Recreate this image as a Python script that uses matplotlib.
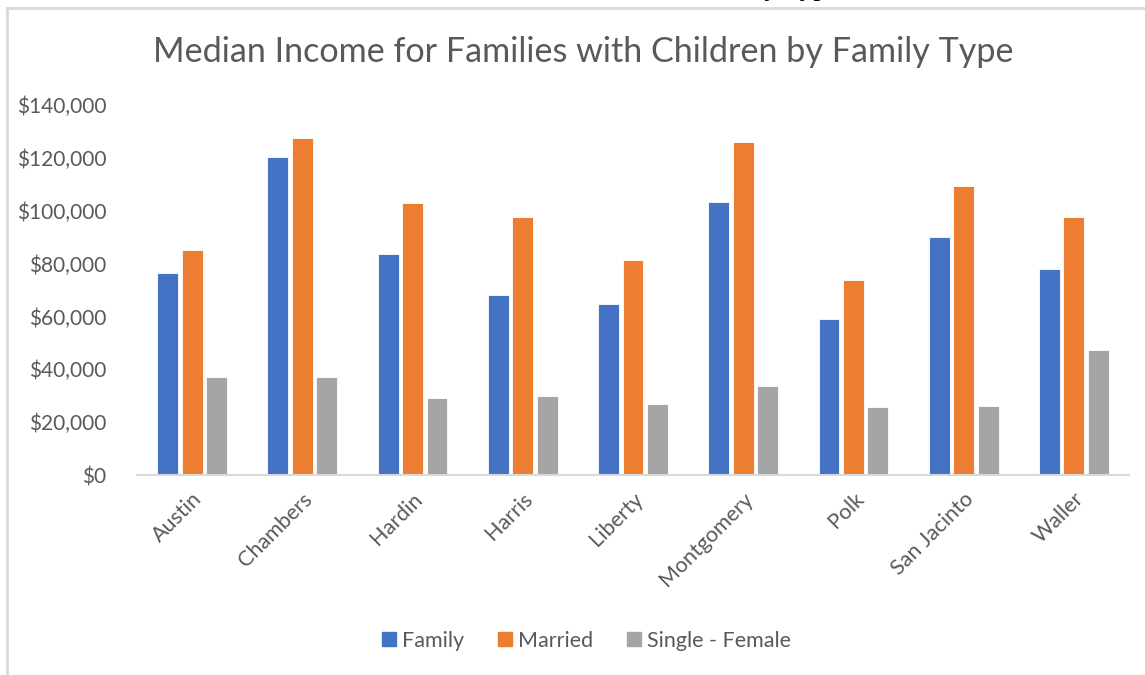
import numpy as np
import matplotlib
matplotlib.use("Agg")
import matplotlib.pyplot as plt
from matplotlib.ticker import FuncFormatter
from matplotlib.lines import Line2D

# data
counties = ["Austin", "Chambers", "Hardin", "Harris", "Liberty",
            "Montgomery", "Polk", "San Jacinto", "Waller"]
family = [76600, 120400, 83500, 68000, 64600, 103400, 58900, 89900, 77800]
married = [85100, 127600, 103000, 97700, 81500, 125900, 73900, 109300, 97700]
single_female = [37000, 37000, 29100, 29800, 26700, 33700, 25800, 26000, 47200]
series_names = ["Family", "Married", "Single - Female"]
colors = ["#4472C4", "#ED7D31", "#A5A5A5"]
y_ticks = [0, 20000, 40000, 60000, 80000, 100000, 120000, 140000]

text_color = "#595959"
plt.rcParams['font.family'] = ['Lato', 'DejaVu Sans']

fig = plt.figure(figsize=(11.45, 6.75), dpi=100)
ax = fig.add_axes([137 / 1145, 1 - 475 / 675, (1129 - 137) / 1145, 370 / 675])

x = np.arange(len(counties))
step = 0.222
for i, vals in enumerate([family, married, single_female]):
    ax.bar(x + (i - 1) * step, vals, width=0.19, color=colors[i],
           edgecolor="white", linewidth=0.6, label=series_names[i])

ax.set_xlim(-0.5, len(counties) - 0.5)
ax.set_ylim(0, 140000)
ax.set_yticks(y_ticks)
ax.yaxis.set_major_formatter(FuncFormatter(lambda v, p: f"${v:,.0f}"))
ax.set_xticks(x)
ax.set_xticklabels(counties, rotation=45, ha="right", rotation_mode="anchor")

for s in ["top", "right", "left"]:
    ax.spines[s].set_visible(False)
ax.spines["bottom"].set_color("#D9D9D9")
ax.spines["bottom"].set_linewidth(1.5)
ax.tick_params(axis="both", length=0, colors=text_color, labelsize=15.5)
ax.tick_params(axis="y", labelsize=15, pad=22)
ax.tick_params(axis="x", pad=10)

fig.text(583 / 1145, 1 - 52 / 675, "Median Income for Families with Children by Family Type",
         ha="center", va="center", fontsize=24.6, color=text_color)

handles = [Line2D([], [], marker="s", linestyle="none", markersize=10,
                  markerfacecolor=c, markeredgecolor=c) for c in colors]
fig.legend(handles, series_names, loc="center", bbox_to_anchor=(585 / 1145, 1 - 641 / 675),
           ncol=3, frameon=False, fontsize=15.5, labelcolor=text_color,
           handletextpad=0.1, columnspacing=1.4, handlelength=1.0)

# chart border (light gray, left and top only visible in the crop)
fig.add_artist(Line2D([6.5 / 1145, 6.5 / 1145], [0, 1 - 7.5 / 675], transform=fig.transFigure,
                      color="#D9D9D9", linewidth=2))
fig.add_artist(Line2D([6.5 / 1145, 1], [1 - 7.5 / 675, 1 - 7.5 / 675], transform=fig.transFigure,
                      color="#D9D9D9", linewidth=2))
# cut-off document text above the chart
fig.text(840 / 1145, 1 + 12 / 675, "Family Type", ha="right", va="center",
         fontsize=20, color="black", family="Liberation Serif")

fig.savefig("out.png", dpi=100)
